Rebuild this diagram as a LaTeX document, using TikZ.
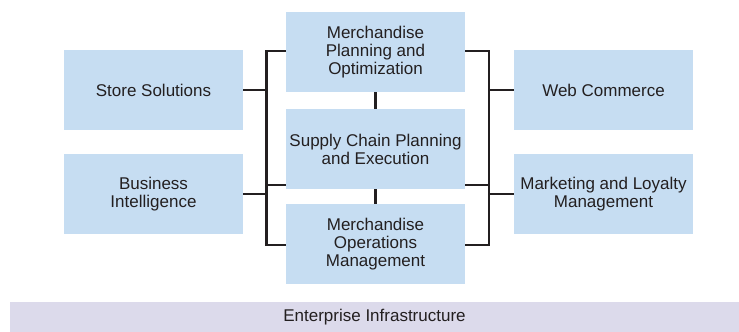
\documentclass[tikz,border=0pt]{standalone}
\usepackage{fontspec}
\setmainfont{Liberation Sans}
\usepackage{tikz}

\definecolor{boxblue}{HTML}{C6DDF2}
\definecolor{barlilac}{HTML}{DCDAEB}
\definecolor{ink}{HTML}{231F20}

\begin{document}
\begin{tikzpicture}[x=1pt,y=-1pt,
    unit/.style={fill=boxblue,minimum width=179pt,minimum height=80pt,inner sep=0pt,
      align=center,text=ink,font=\fontsize{17}{18}\selectfont},
    bus/.style={line width=2.6pt,ink}]
    \useasboundingbox (0,0) rectangle (739,332);
    % left, centre and right columns
    \node[unit] (store) at (153.5,90) {Store Solutions};
    \node[unit] (bi) at (153.5,194) {Business\\Intelligence};
    \node[unit] (mpo) at (375.5,52) {Merchandise\\Planning and\\Optimization};
    \node[unit] (scp) at (375.5,149) {Supply Chain Planning\\and Execution};
    \node[unit] (mom) at (375.5,244) {Merchandise\\Operations\\Management};
    \node[unit] (web) at (603.5,90) {Web Commerce};
    \node[unit] (mkt) at (603.5,194) {Marketing and Loyalty\\Management};
    \node[unit,fill=barlilac,minimum width=729pt,minimum height=30pt] (infra) at (374.5,317)
      {Enterprise Infrastructure};
    % bus ends
    \coordinate (l0) at (266.5,51); \coordinate (l1) at (266.5,245); \coordinate (l2) at (266.5,185);
    \coordinate (r0) at (489,51); \coordinate (r1) at (489,245); \coordinate (r2) at (489,185);
    \draw[bus] (mpo.west |- l0) -- (l0) -- (l1) -- (mom.west |- l1);
    \draw[bus] (mpo.east |- r0) -- (r0) -- (r1) -- (mom.east |- r1);
    \draw[bus] (scp.west |- l2) -- (l2); \draw[bus] (scp.east |- r2) -- (r2);
    \draw[bus] (store.east) -- (store.east -| l0); \draw[bus] (bi.east) -- (bi.east -| l0);
    \draw[bus] (web.west) -- (web.west -| r0); \draw[bus] (mkt.west) -- (mkt.west -| r0);
    \draw[bus] (mpo) -- (scp); \draw[bus] (scp) -- (mom);
\end{tikzpicture}
\end{document}
